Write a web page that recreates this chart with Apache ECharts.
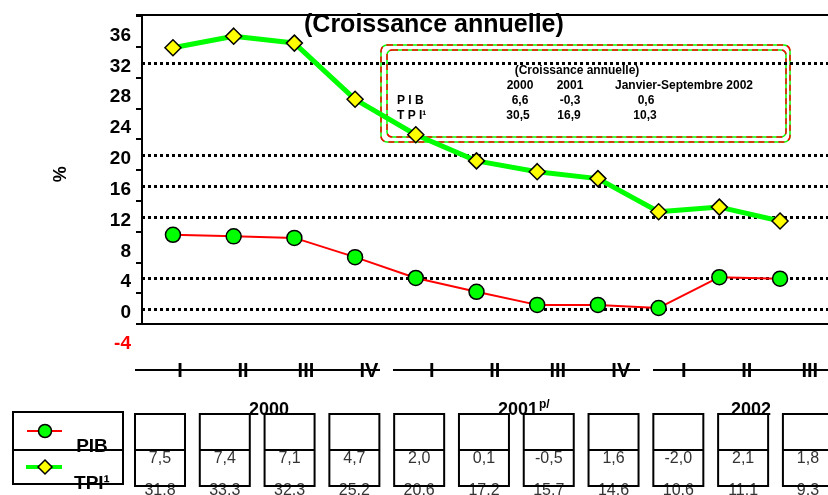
<!DOCTYPE html>
<html>
<head>
<meta charset="utf-8">
<script src="https://cdn.jsdelivr.net/npm/echarts@6/dist/echarts.min.js"></script>
<style>
  html, body { margin: 0; padding: 0; background: #fff; }
  #chart { width: 828px; height: 495px; }
</style>
</head>
<body>
<div id="chart"></div>
<script>
// quarter labels and plotted values
const quarters = ["I", "II", "III", "IV", "I", "II", "III", "IV", "I", "II", "III"];
const pibPlot = [9.7, 9.5, 9.3, 6.8, 4.1, 2.3, 0.6, 0.6, 0.2, 4.2, 4.0];
const tpiPlot = [34.0, 35.5, 34.6, 27.3, 22.7, 19.3, 17.9, 17.0, 12.7, 13.3, 11.5];

// values in the data table under the chart
const pibTable = [7.5, 7.4, 7.1, 4.7, 2.0, 0.1, -0.5, 1.6, -2.0, 2.1, 1.8];
const tpiTable = [31.8, 33.3, 32.3, 25.2, 20.6, 17.2, 15.7, 14.6, 10.6, 11.1, 9.3];

// years under the quarters
const years = ["2000", "2001", "2002"];

// dotted reference lines
const gridValues = [0, 4, 12, 16, 20, 32];

// small annual table in the box
const boxHeads = ["2000", "2001", "Janvier-Septembre 2002"];
const boxPib = ["6,6", "-0,3", "0,6"];
const boxTpi = ["30,5", "16,9", "10,3"];

const FONT = "Liberation Sans, Arial, sans-serif";
const comma = (v) => v.toFixed(1).replace(".", ",");

const chart = echarts.init(document.getElementById("chart"));

const boxText = (text, x, y, align) => ({
  type: "text",
  x: x,
  y: y,
  style: {
    text: text,
    fill: "#000",
    font: "bold 12px " + FONT,
    align: align || "center",
    verticalAlign: "middle",
  },
});

const graphic = [
  // annotation box
  { type: "rect", shape: { x: 381, y: 45, width: 409, height: 97, r: 6 }, style: { fill: "none", stroke: "#00ff00", lineWidth: 1.5 } },
  { type: "rect", shape: { x: 381, y: 45, width: 409, height: 97, r: 6 }, style: { fill: "none", stroke: "#ff0000", lineWidth: 1.5, lineDash: [6, 4] } },
  { type: "rect", shape: { x: 387, y: 50, width: 399, height: 87, r: 5 }, style: { fill: "none", stroke: "#00ff00", lineWidth: 1.5 } },
  { type: "rect", shape: { x: 387, y: 50, width: 399, height: 87, r: 5 }, style: { fill: "none", stroke: "#ff0000", lineWidth: 1.5, lineDash: [6, 4] } },
  boxText("(Croissance annuelle)", 577, 71),
  boxText(boxHeads[0], 520, 86),
  boxText(boxHeads[1], 570, 86),
  boxText(boxHeads[2], 684, 86),
  boxText("P I B", 397, 101, "left"),
  boxText("T P I\u00b9", 397, 116, "left"),
  boxText(boxPib[0], 520, 101),
  boxText(boxPib[1], 570, 101),
  boxText(boxPib[2], 646, 101),
  boxText(boxTpi[0], 518, 116),
  boxText(boxTpi[1], 569, 116),
  boxText(boxTpi[2], 645, 116),

  // quarter axis line segments
  { type: "line", shape: { x1: 135, y1: 370, x2: 380, y2: 370 }, style: { stroke: "#000", lineWidth: 2 }, z: 10 },
  { type: "line", shape: { x1: 393, y1: 370, x2: 640, y2: 370 }, style: { stroke: "#000", lineWidth: 2 }, z: 10 },
  { type: "line", shape: { x1: 653, y1: 370, x2: 828, y2: 370 }, style: { stroke: "#000", lineWidth: 2 }, z: 10 },

  // year labels
  { type: "text", x: 269, y: 410, style: { text: years[0], font: "bold 18px " + FONT, fill: "#000", align: "center", verticalAlign: "middle" }, z: 12 },
  {
    type: "text", x: 498, y: 410, z: 12,
    style: {
      text: "{a|" + years[1] + "}{s|p/}",
      align: "left", verticalAlign: "middle",
      rich: {
        a: { font: "bold 18px " + FONT, fill: "#000" },
        s: { font: "bold 12px " + FONT, fill: "#000", verticalAlign: "top", padding: [0, 0, 10, 1] },
      },
    },
  },
  { type: "text", x: 751, y: 410, style: { text: years[2], font: "bold 18px " + FONT, fill: "#000", align: "center", verticalAlign: "middle" }, z: 12 },

  // legend box
  { type: "rect", shape: { x: 13, y: 412, width: 110, height: 72 }, style: { fill: "none", stroke: "#000", lineWidth: 2 } },
  { type: "line", shape: { x1: 13, y1: 450, x2: 123, y2: 450 }, style: { stroke: "#000", lineWidth: 2 } },
  { type: "line", shape: { x1: 27, y1: 431, x2: 62, y2: 431 }, style: { stroke: "#ff0000", lineWidth: 2 } },
  { type: "circle", shape: { cx: 45, cy: 431, r: 6.5 }, style: { fill: "#00ff00", stroke: "#000", lineWidth: 1.5 } },
  { type: "line", shape: { x1: 26, y1: 467, x2: 62, y2: 467 }, style: { stroke: "#00ff00", lineWidth: 4 } },
  { type: "polygon", shape: { points: [[45, 460], [52, 467], [45, 474], [38, 467]] }, style: { fill: "#ffff00", stroke: "#000", lineWidth: 1.5 } },
  { type: "text", x: 92, y: 447, style: { text: "PIB", font: "bold 19px " + FONT, fill: "#000", align: "center", verticalAlign: "middle" }, z: 12 },
  { type: "text", x: 92, y: 484, style: { text: "TPI\u00b9", font: "bold 19px " + FONT, fill: "#000", align: "center", verticalAlign: "middle" }, z: 12 },
];

const option = {
  animation: false,
  backgroundColor: "#fff",
  title: {
    text: "(Croissance annuelle)",
    left: 299,
    top: 8,
    textStyle: { fontFamily: FONT, fontSize: 25, fontWeight: "bold", color: "#000" },
  },
  grid: [
    { left: 142, top: 4.6, width: 100, height: 339.2 },   // tick labels
    { left: 142, top: 15, right: 0, height: 309 },        // plot
    { left: 180, top: 371, right: 0, height: 1 },         // quarter labels
    { left: 127.6, top: 414, right: 0, height: 72 },      // data table
  ],
  xAxis: [
    { gridIndex: 0, type: "value", show: false },
    {
      gridIndex: 1, type: "value", min: -0.51, max: 10.79,
      axisLine: { onZero: false, lineStyle: { color: "#000", width: 2 } },
      axisTick: { show: false }, axisLabel: { show: false }, splitLine: { show: false },
    },
    {
      gridIndex: 1, type: "value", min: -0.51, max: 10.79, position: "top",
      axisLine: { onZero: false, lineStyle: { color: "#000", width: 2 } },
      axisTick: { show: false }, axisLabel: { show: false }, splitLine: { show: false },
    },
    {
      gridIndex: 2, type: "value", min: 0, max: 10.29, interval: 1,
      axisLine: { show: false }, axisTick: { show: false }, splitLine: { show: false },
      axisLabel: {
        margin: -1, verticalAlign: "middle", showMaxLabel: false,
        fontFamily: FONT, fontSize: 20, fontWeight: "bold", color: "#000",
        formatter: (v) => quarters[Math.round(v)] || "",
      },
    },
    { gridIndex: 3, type: "value", min: -0.5, max: 10.31, show: false },
  ],
  yAxis: [
    {
      gridIndex: 0, type: "value", min: -4, max: 40, interval: 4,
      axisLine: { show: false }, axisTick: { show: false }, splitLine: { show: false },
      axisLabel: {
        margin: 11, fontFamily: FONT, fontSize: 19, fontWeight: "bold", color: "#000",
        formatter: (v) => (v === 40 ? "" : v === -4 ? "{r|-4}" : String(v)),
        rich: { r: { color: "#ff0000", fontFamily: FONT, fontSize: 19, fontWeight: "bold" } },
      },
      name: "%", nameLocation: "middle", nameRotate: 90, nameGap: 72,
      nameTextStyle: { fontFamily: FONT, fontSize: 18, fontWeight: "bold", color: "#000" },
    },
    {
      gridIndex: 1, type: "value", min: -1.883, max: 38.25, interval: 4,
      axisLine: { show: true, onZero: false, lineStyle: { color: "#000", width: 2 } },
      axisTick: { show: true, inside: false, length: 6, lineStyle: { color: "#000", width: 2 } },
      axisLabel: { show: false }, splitLine: { show: false },
    },
    { gridIndex: 2, type: "value", show: false },
    { gridIndex: 3, type: "value", min: 0, max: 1, show: false },
  ],
  series: [
    {
      name: "PIB", type: "line", xAxisIndex: 1, yAxisIndex: 1,
      data: pibPlot.map((v, i) => [i, v]),
      symbol: "circle", symbolSize: 15,
      lineStyle: { color: "#ff0000", width: 2 },
      itemStyle: { color: "#00ff00", borderColor: "#000", borderWidth: 1.5 },
      z: 3,
      markLine: {
        silent: true, symbol: "none", label: { show: false },
        lineStyle: { color: "#000", width: 3, type: [3, 3] },
        data: gridValues.map((v) => ({ yAxis: v })),
        z: 1,
      },
    },
    {
      name: "TPI", type: "line", xAxisIndex: 1, yAxisIndex: 1,
      data: tpiPlot.map((v, i) => [i, v]),
      symbol: "diamond", symbolSize: 16,
      lineStyle: { color: "#00ff00", width: 5 },
      itemStyle: { color: "#ffff00", borderColor: "#000", borderWidth: 1.5 },
      z: 4,
    },
    {
      name: "table", type: "custom", xAxisIndex: 4, yAxisIndex: 3,
      data: pibTable.map((v, i) => [i, v, tpiTable[i]]),
      clip: false,
      renderItem: (params, api) => {
        const i = api.value(0);
        const top = api.coord([i, 1]);
        const bot = api.coord([i, 0]);
        const mid = (top[1] + bot[1]) / 2;
        const x = top[0] - 25;
        return {
          type: "group",
          children: [
            {
              type: "text",
              style: { text: comma(api.value(1)), x: top[0], y: mid + 9, align: "center", verticalAlign: "middle", font: "16px " + FONT, fill: "#333" },
            },
            {
              type: "text",
              style: { text: comma(api.value(2)), x: top[0], y: bot[1] + 5, align: "center", verticalAlign: "middle", font: "16px " + FONT, fill: "#333" },
            },
            {
              type: "rect",
              shape: { x: x, y: top[1], width: 50, height: bot[1] - top[1] },
              style: { fill: "none", stroke: "#000", lineWidth: 2 },
            },
            {
              type: "line",
              shape: { x1: x, y1: mid, x2: x + 50, y2: mid },
              style: { stroke: "#000", lineWidth: 2 },
            },
          ],
        };
      },
    },
  ],
  graphic: graphic,
};

chart.setOption(option);
</script>
</body>
</html>
